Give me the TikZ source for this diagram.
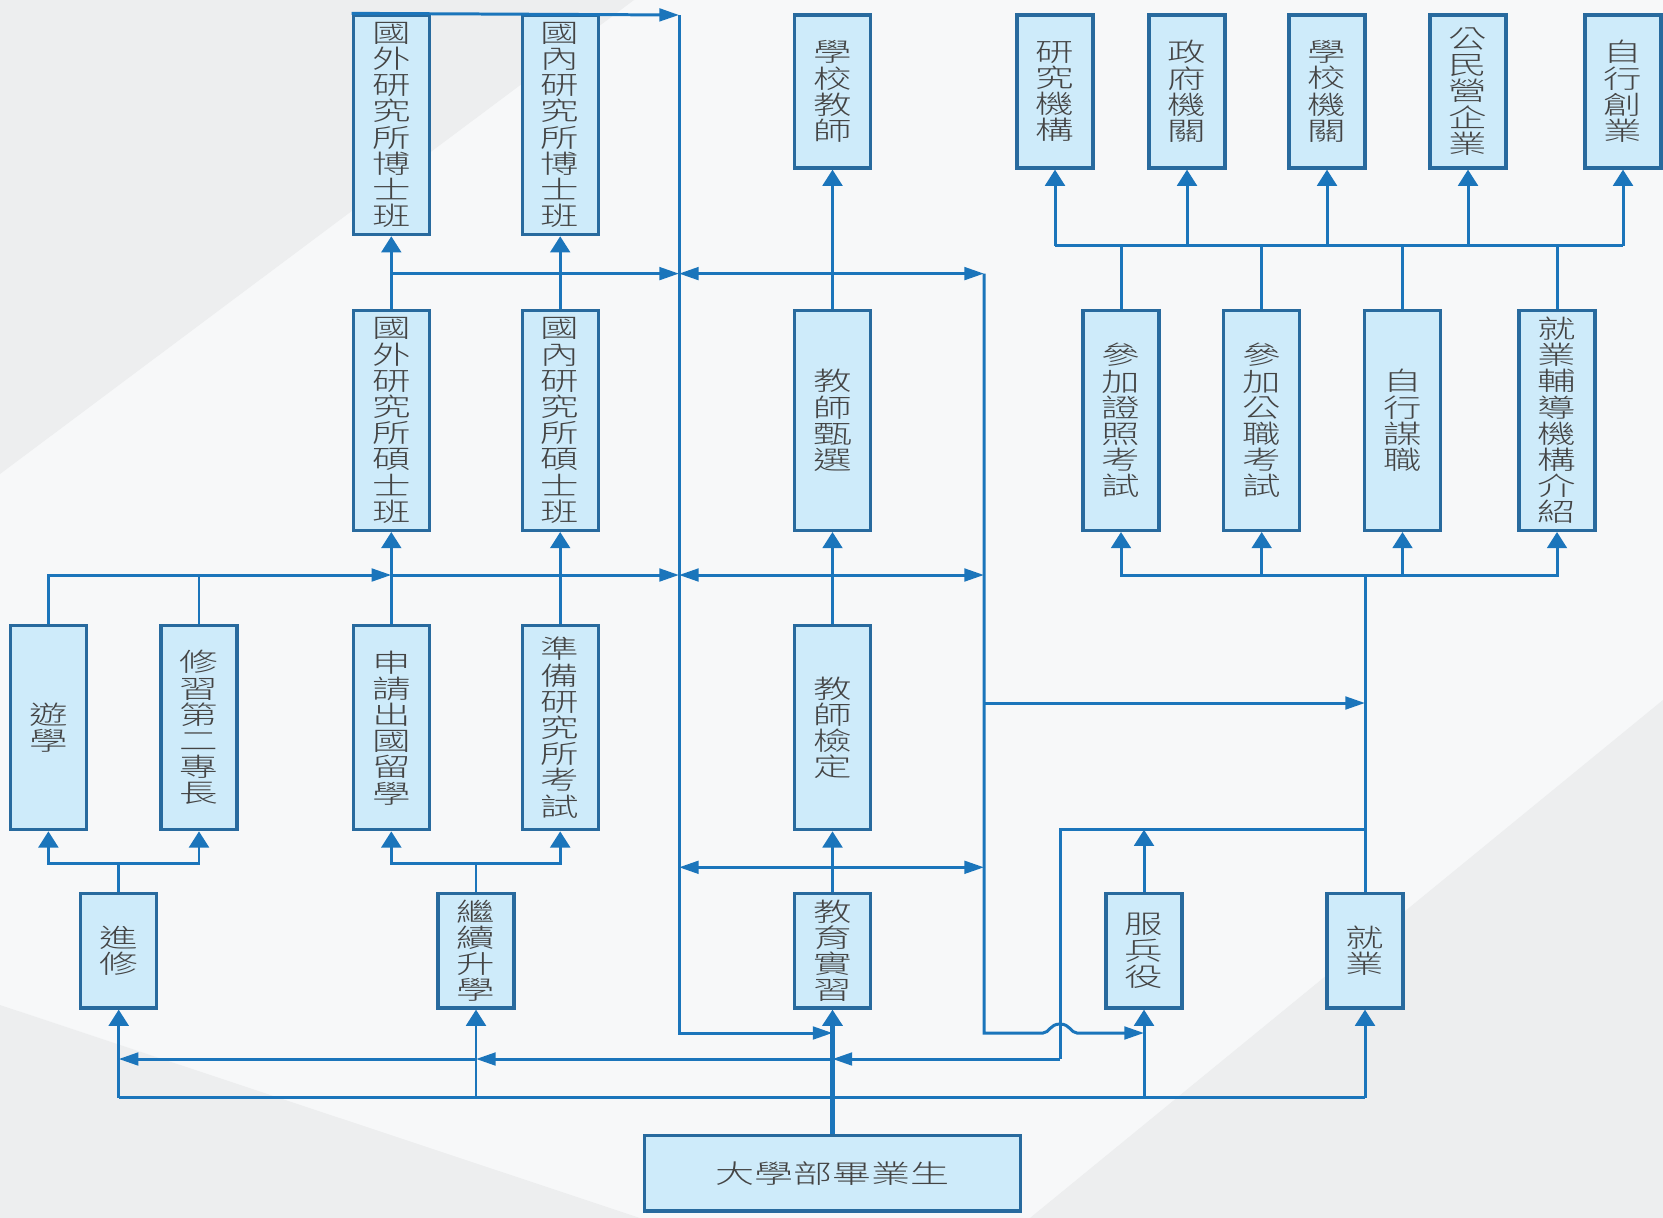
\documentclass[tikz,border=0pt]{standalone}
\usepackage{fontspec}
\usetikzlibrary{arrows.meta, calc}
\newfontfamily\cjk[FakeStretch=1.5]{Noto Sans CJK TC Light}
\newcommand{\boxfont}{\cjk\fontsize{7.3pt}{7.45pt}\selectfont}
\definecolor{flowblue}{RGB}{27, 117, 187}
\definecolor{boxedge}{RGB}{40, 106, 158}
\definecolor{boxfill}{RGB}{206, 235, 250}
\definecolor{textgray}{RGB}{68, 68, 68}
\definecolor{bgpaper}{RGB}{247, 248, 249}
\definecolor{bgshade}{RGB}{237, 238, 239}
\tikzset{
  stage/.style={draw=boxedge, fill=boxfill, line width=0.9pt, minimum width=0.76cm,
    inner sep=0pt, align=center, font=\boxfont, text=textgray},
  flow/.style={flowblue, line width=0.85pt},
  upto/.style={flow, -{Triangle[length=4.6pt, width=5.6pt]}},
  sideto/.style={flow, -{Triangle[length=5.6pt, width=3.6pt]}},
  twoway/.style={flow, {Triangle[length=5.6pt, width=3.6pt]}-{Triangle[length=5.6pt, width=3.6pt]}},
}

\begin{document}
\begin{tikzpicture}[x=0.01cm, y=-0.01cm]
  \useasboundingbox (0, 0) rectangle (1663, 1218);
  % 背景
  \fill[bgpaper] (0, 0) rectangle (1663, 1218);
  \fill[bgshade] (0, 0) -- (634, 0) -- (0, 474) -- cycle;
  \fill[bgshade] (0, 1005) -- (640, 1218) -- (0, 1218) -- cycle;
  \fill[bgshade] (1663, 700) -- (1663, 1218) -- (1030, 1218) -- cycle;

  % 出路
  \node[stage, minimum height=1.53cm] (tchschool) at (832.5, 91.5) {學\\校\\教\\師};
  \node[stage, minimum height=1.53cm] (research) at (1055, 91.5) {研\\究\\機\\構};
  \node[stage, minimum height=1.53cm] (gov) at (1187, 91.5) {政\\府\\機\\關};
  \node[stage, minimum height=1.53cm] (schoolorg) at (1327, 91.5) {學\\校\\機\\關};
  \node[stage, minimum height=1.53cm] (enterprise) at (1468, 91.5) {公\\民\\營\\企\\業};
  \node[stage, minimum height=1.53cm] (startup) at (1623, 91.5) {自\\行\\創\\業};

  % 研究所
  \node[stage, minimum height=2.196cm] (phdabroad) at (391.3, 124.8) {國\\外\\研\\究\\所\\博\\士\\班};
  \node[stage, minimum height=2.196cm] (phdlocal) at (560.2, 124.8) {國\\內\\研\\究\\所\\博\\士\\班};
  \node[stage, minimum height=2.197cm] (msabroad) at (391.3, 420.5) {國\\外\\研\\究\\所\\碩\\士\\班};
  \node[stage, minimum height=2.197cm] (mslocal) at (560.2, 420.5) {國\\內\\研\\究\\所\\碩\\士\\班};
  \node[stage, minimum height=2.197cm] (tchselect) at (832.5, 420.5) {教\\師\\甄\\選};
  \node[stage, minimum height=2.197cm] (certexam) at (1121, 420.5) {參\\加\\證\\照\\考\\試};
  \node[stage, minimum height=2.197cm] (civilexam) at (1261.7, 420.5) {參\\加\\公\\職\\考\\試};
  \node[stage, minimum height=2.197cm] (selfjob) at (1402.5, 420.5) {自\\行\\謀\\職};
  \node[stage, minimum height=2.197cm] (jobagency) at (1557, 420.5) {就\\業\\輔\\導\\機\\構\\介\\紹};

  \node[stage, minimum height=2.04cm] (travel) at (48.4, 727.7) {遊\\學};
  \node[stage, minimum height=2.04cm] (second) at (199, 727.7) {修\\習\\第\\二\\專\\長};
  \node[stage, minimum height=2.04cm] (applyabroad) at (391.3, 727.7) {申\\請\\出\\國\\留\\學};
  \node[stage, minimum height=2.04cm] (prepexam) at (560.2, 727.7) {準\\備\\研\\究\\所\\考\\試};
  \node[stage, minimum height=2.04cm] (tchcert) at (832.5, 727.7) {教\\師\\檢\\定};

  \node[stage, minimum height=1.144cm] (further) at (118.7, 950.8) {進\\修};
  \node[stage, minimum height=1.144cm] (advance) at (476, 950.8) {繼\\續\\升\\學};
  \node[stage, minimum height=1.144cm] (practice) at (832.5, 950.8) {教\\育\\實\\習};
  \node[stage, minimum height=1.144cm] (military) at (1144, 950.8) {服\\兵\\役};
  \node[stage, minimum height=1.144cm] (employ) at (1365, 950.8) {就\\業};

  \node[stage, minimum width=3.75cm, minimum height=0.75cm,
    font=\cjk\fontsize{7.4pt}{9pt}\selectfont] (graduate) at (832.5, 1173.4) {大學部畢業生};

  % 轉接點
  \coordinate (railLtop) at (679, 15);
  \coordinate (railLbot) at (679, 1033);
  \coordinate (railRbot) at (984, 1033);
  \coordinate (railLA) at (679, 273.6);
  \coordinate (railRA) at (984, 273.6);
  \coordinate (railLB) at (679, 575);
  \coordinate (railRB) at (984, 575);
  \coordinate (railLC) at (679, 867.3);
  \coordinate (railRC) at (984, 867.3);
  \coordinate (toemploy) at (984, 703);
  \coordinate (forkrow) at (0, 863.4);
  \coordinate (topfork) at (0, 245.7);
  \coordinate (trunk) at (832.5, 1097.5);
  \coordinate (returnL) at (1060, 829.7);
  \coordinate (returnB) at (1060, 1059);

  % 大學部畢業生
  \draw[upto, line width=1.4pt] (graduate.north) -- (practice.south);
  \draw[flow] (further.south |- trunk) -- (employ.south |- trunk);
  \foreach \n in {further, advance, military, employ}
    \draw[upto] (\n.south |- trunk) -- (\n.south);

  % 進修、繼續升學
  \draw[upto] (further.north) -- (further.north |- forkrow) -| (travel.south);
  \draw[upto] (further.north |- forkrow) -| (second.south);
  \draw[upto] (advance.north) -- (advance.north |- forkrow) -| (applyabroad.south);
  \draw[upto] (advance.north |- forkrow) -| (prepexam.south);

  \draw[sideto] (travel.north) |- (applyabroad.north |- railLB);
  \draw[flow] (second.north) -- (second.north |- railLB);
  \draw[sideto] (applyabroad.north |- railLB) -- (railLB);

  \draw[upto] (applyabroad.north) -- (msabroad.south);
  \draw[upto] (prepexam.north) -- (mslocal.south);
  \draw[upto] (msabroad.north) -- (phdabroad.south);
  \draw[upto] (mslocal.north) -- (phdlocal.south);
  \draw[sideto] (msabroad.north |- railLA) -- (railLA);
  \draw[sideto] (phdabroad.north west) -- (railLtop);

  % 教師
  \draw[upto] (practice.north) -- (tchcert.south);
  \draw[upto] (tchcert.north) -- (tchselect.south);
  \draw[upto] (tchselect.north) -- (tchschool.south);

  \draw[sideto] (railLtop) -- (railLbot) -- (practice.south |- railLbot);
  \draw[twoway] (railLA) -- (railRA);
  \draw[twoway] (railLB) -- (railRB);
  \draw[twoway] (railLC) -- (railRC);
  \draw[sideto] (railRA) -- (railRbot) -- (1043, 1033)
    .. controls (1049, 1033) and (1050, 1024) .. (1060, 1024)
    .. controls (1070, 1024) and (1071, 1033) .. (1077, 1033)
    -- (military.south |- railRbot);
  \draw[sideto] (toemploy) -- (employ.north |- toemploy);

  % 就業
  \draw[flow] (employ.north) -- (employ.north |- railLB);
  \foreach \n in {certexam, civilexam, selfjob, jobagency}
    \draw[upto] (employ.north |- railLB) -| (\n.south);
  \foreach \n in {certexam, civilexam, selfjob, jobagency}
    \draw[flow] (\n.north) -- (\n.north |- topfork);
  \draw[flow] (research.south |- topfork) -- (startup.south |- topfork);
  \foreach \n in {research, gov, schoolorg, enterprise, startup}
    \draw[upto] (\n.south |- topfork) -- (\n.south);

  % 回流
  \draw[flow] (employ.north |- returnL) -- (returnL) -- (returnB);
  \draw[sideto] (returnB) -- (practice.south |- returnB);
  \draw[sideto] (practice.south |- returnB) -- (advance.south |- returnB);
  \draw[sideto] (advance.south |- returnB) -- (further.south |- returnB);
  \draw[upto] (military.north) -- (military.north |- returnL);
\end{tikzpicture}
\end{document}
